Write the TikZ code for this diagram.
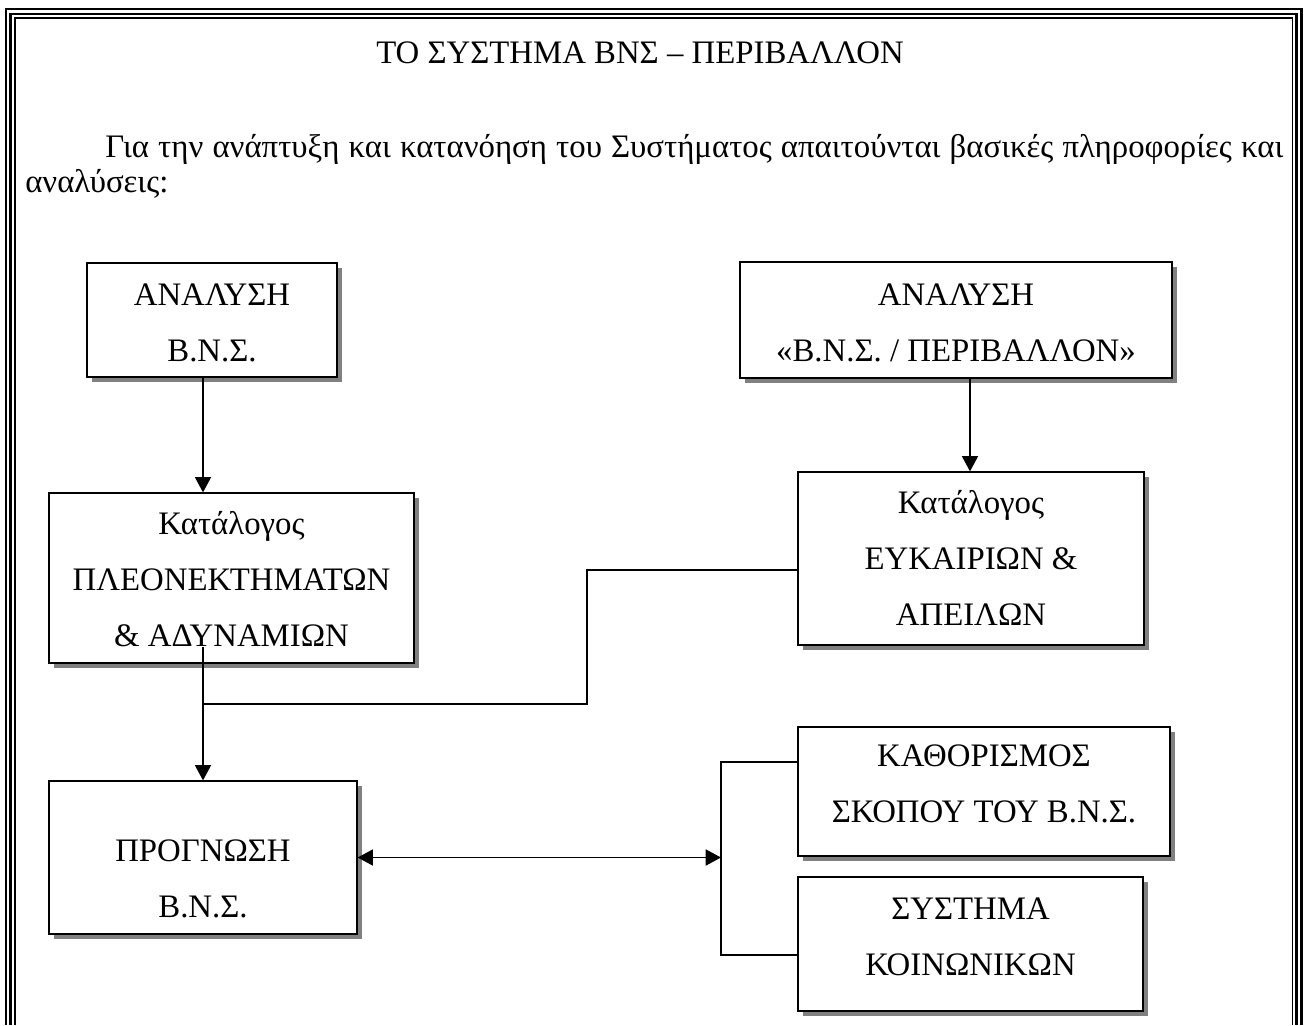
\documentclass[tikz,border=0pt]{standalone}
\usepackage{fontspec}
\setmainfont{Liberation Serif}
\usetikzlibrary{arrows.meta,shadows}
\definecolor{shadowgray}{HTML}{808080}
\begin{document}
\begin{tikzpicture}[x=0.75pt,y=-0.75pt,
  box/.style={draw=black, line width=0.9pt, fill=white, inner sep=0pt,
    drop shadow={shadow xshift=3.75pt, shadow yshift=-3.75pt, fill=shadowgray, opacity=1}},
  txt/.style={align=center, font=\fontsize{24.6}{42}\selectfont, inner sep=0pt, anchor=base},
  para/.style={font=\fontsize{24.6}{28}\selectfont, inner sep=0pt, anchor=base west},
  link/.style={line width=0.8pt},
  arr/.style={line width=1.3pt, -{Triangle[length=11.5pt,width=12pt]}},
  dblarr/.style={line width=1.3pt, {Triangle[length=11.5pt,width=12pt]}-{Triangle[length=11.5pt,width=12pt]}}
]
\useasboundingbox (0,0) rectangle (1306,1025);

% triple page frame, open at the bottom
\draw[line width=1.6pt, line join=miter] (6,1025) -- (6,9) -- (1301.5,9) -- (1301.5,1025);
\draw[line width=2.2pt, line join=miter] (10.5,1025) -- (10.5,14) -- (1296.5,14) -- (1296.5,1025);
\draw[line width=1pt, line join=miter] (15,1025) -- (15,18) -- (1292.5,18) -- (1292.5,1025);

% heading and introduction
\node[txt] (title) at (640,63) {ΤΟ ΣΥΣΤΗΜΑ ΒΝΣ – ΠΕΡΙΒΑΛΛΟΝ};
\node[para] (intro1) at (105,157) {\makebox[883.5pt][s]{Για την ανάπτυξη και κατανόηση του Συστήματος απαιτούνται βασικές πληροφορίες και}};
\node[para] (intro2) at (25,192) {αναλύσεις:};

% boxes
\node[box, minimum width=187.5pt, minimum height=85.5pt]  (A) at (212,320) {};
\node[box, minimum width=324pt,   minimum height=87pt]    (B) at (956,320) {};
\node[box, minimum width=273.75pt, minimum height=127.5pt] (C) at (231.5,578) {};
\node[box, minimum width=259.5pt, minimum height=129.75pt] (D) at (971,558.5) {};
\node[box, minimum width=231pt,   minimum height=114.75pt] (E) at (203,857.5) {};
\node[box, minimum width=279pt,   minimum height=96.75pt]  (F) at (984,791.5) {};
\node[box, minimum width=258.75pt, minimum height=100.5pt] (G) at (970.5,944) {};

% box texts (placed by the baseline of their last line)
\node[txt] (tA) at (212,361)   {ΑΝΑΛΥΣΗ\\Β.Ν.Σ.};
\node[txt] (tB) at (956,361)   {ΑΝΑΛΥΣΗ\\«Β.Ν.Σ. / ΠΕΡΙΒΑΛΛΟΝ»};
\node[txt] (tC) at (231.5,646) {Κατάλογος\\ΠΛΕΟΝΕΚΤΗΜΑΤΩΝ\\\& ΑΔΥΝΑΜΙΩΝ};
\node[txt] (tD) at (971,625)   {Κατάλογος\\ΕΥΚΑΙΡΙΩΝ \&\\ΑΠΕΙΛΩΝ};
\node[txt] (tE) at (203,917)   {ΠΡΟΓΝΩΣΗ\\Β.Ν.Σ.};
\node[txt] (tF) at (984,822)   {ΚΑΘΟΡΙΣΜΟΣ\\ΣΚΟΠΟΥ ΤΟΥ Β.Ν.Σ.};
\node[txt] (tG) at (970.5,975) {ΣΥΣΤΗΜΑ\\ΚΟΙΝΩΝΙΚΩΝ};

% connector guide points
\coordinate (ax) at (203,0);
\coordinate (bx) at (970,0);
\coordinate (cstart) at (203,647);
\coordinate (join) at (203,704);
\coordinate (bend1) at (587,704);
\coordinate (bend2) at (587,570);
\coordinate (dy) at (0,570);
\coordinate (brk) at (721,857.5);
\coordinate (brtop) at (721,762);
\coordinate (brbot) at (721,955);

% connectors
\draw[arr] (A.south -| ax) -- (C.north -| ax);
\draw[arr] (B.south -| bx) -- (D.north -| bx);
\draw[arr] (cstart) -- (E.north -| cstart);
\draw[link] (join) -- (bend1) -- (bend2) -- (D.west |- dy);
\draw[dblarr] (E.east) -- (brk);
\draw[link] (F.west |- brtop) -- (brtop) -- (brbot) -- (G.west |- brbot);
\end{tikzpicture}
\end{document}
